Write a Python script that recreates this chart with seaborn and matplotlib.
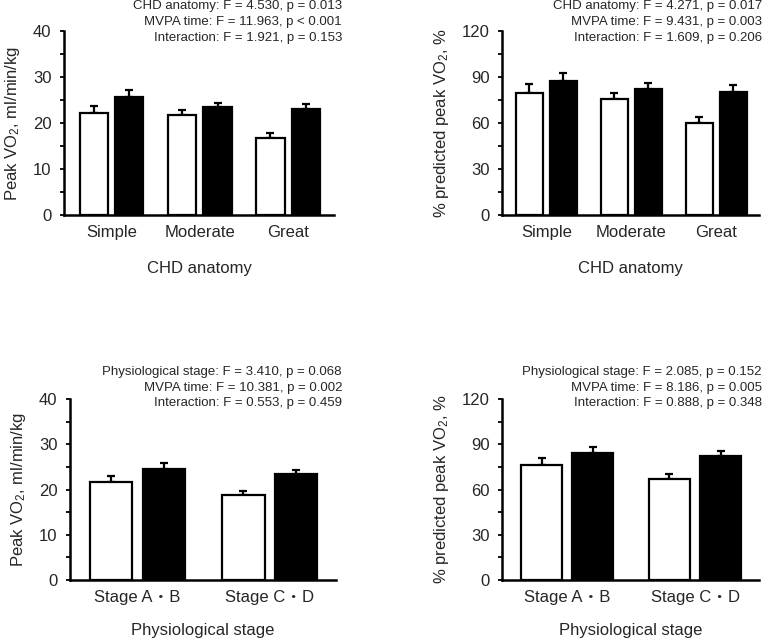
import matplotlib
matplotlib.use('Agg')
import numpy as np
import pandas as pd
import matplotlib.pyplot as plt
import seaborn as sns
from matplotlib.ticker import MultipleLocator

# ---- data (mean and upper SE for low / high MVPA time) ----
anatomy_cats = ['Simple', 'Moderate', 'Great']
stage_cats = ['Stage A・B', 'Stage C・D']

vo2_anat_low = [22.1, 21.7, 16.7]
vo2_anat_low_se = [1.7, 1.05, 1.2]
vo2_anat_high = [25.7, 23.5, 23.0]
vo2_anat_high_se = [1.5, 0.9, 1.1]

pct_anat_low = [79.3, 75.7, 59.8]
pct_anat_low_se = [5.9, 3.9, 3.9]
pct_anat_high = [87.6, 82.4, 80.4]
pct_anat_high_se = [4.8, 3.5, 4.2]

vo2_stage_low = [21.7, 18.8]
vo2_stage_low_se = [1.3, 0.9]
vo2_stage_high = [24.5, 23.35]
vo2_stage_high_se = [1.3, 0.85]

pct_stage_low = [76.2, 67.0]
pct_stage_low_se = [4.5, 3.3]
pct_stage_high = [84.0, 82.4]
pct_stage_high_se = [4.2, 2.9]

notes_vo2_anat = ['CHD anatomy: F = 4.530, p = 0.013',
                  'MVPA time: F = 11.963, p < 0.001',
                  'Interaction: F = 1.921, p = 0.153']
notes_pct_anat = ['CHD anatomy: F = 4.271, p = 0.017',
                  'MVPA time: F = 9.431, p = 0.003',
                  'Interaction: F = 1.609, p = 0.206']
notes_vo2_stage = ['Physiological stage: F = 3.410, p = 0.068',
                   'MVPA time: F = 10.381, p = 0.002',
                   'Interaction: F = 0.553, p = 0.459']
notes_pct_stage = ['Physiological stage: F = 2.085, p = 0.152',
                   'MVPA time: F = 8.186, p = 0.005',
                   'Interaction: F = 0.888, p = 0.348']

sns.set_style('ticks')
plt.rcParams['font.family'] = ['Liberation Sans', 'Noto Sans CJK JP']
plt.rcParams['mathtext.fontset'] = 'custom'
plt.rcParams['mathtext.rm'] = 'Liberation Sans'
plt.rcParams['mathtext.default'] = 'rm'

W, H = 762, 639
fig = plt.figure(figsize=(W / 100, H / 100), dpi=100)


def px_axes(left, top, right, bottom):
    return fig.add_axes([left / W, 1 - bottom / H, (right - left) / W, (bottom - top) / H])


def draw_panel(ax, cats, low, low_se, high, high_se, ytop, ystep, ylabel, xlabel, xlim, xpad):
    n = len(cats)
    df = pd.DataFrame({'cat': cats * 2,
                       'group': ['low'] * n + ['high'] * n,
                       'value': low + high})
    sns.barplot(data=df, x='cat', y='value', hue='group', palette=['white', 'black'],
                saturation=1, edgecolor='black', linewidth=1.6, gap=0.2,
                errorbar=None, legend=False, ax=ax)
    # upward-only SE bars
    for cont, se in zip(ax.containers, [low_se, high_se]):
        xs = [p.get_x() + p.get_width() / 2 for p in cont]
        ys = [p.get_height() for p in cont]
        ax.errorbar(xs, ys, yerr=[np.zeros(len(se)), se], fmt='none', ecolor='black',
                    elinewidth=1.6, capsize=3, capthick=1.6, zorder=0.5)
    ax.set_ylim(0, ytop)
    ax.set_xlim(*xlim)
    ax.yaxis.set_major_locator(MultipleLocator(ystep))
    ax.yaxis.set_minor_locator(MultipleLocator(ystep / 2))
    ax.tick_params(axis='y', which='both', length=3, width=1.3, direction='out',
                   labelsize=12, pad=6, color='black')
    ax.tick_params(axis='x', length=0, labelsize=12, pad=7)
    for s in ['top', 'right']:
        ax.spines[s].set_visible(False)
    for s in ['left', 'bottom']:
        ax.spines[s].set_linewidth(1.8)
        ax.spines[s].set_color('black')
    ax.set_ylabel(ylabel, fontsize=12, labelpad=8)
    ax.set_xlabel(xlabel, fontsize=12, labelpad=xpad)


def add_notes(lines, right, ys):
    for txt, y in zip(lines, ys):
        fig.text(right / W, 1 - y / H, txt, ha='right', va='center', fontsize=9.5)


ax1 = px_axes(64, 31, 334, 215)
draw_panel(ax1, anatomy_cats, vo2_anat_low, vo2_anat_low_se, vo2_anat_high, vo2_anat_high_se,
           40, 10, 'Peak VO$_2$, ml/min/kg', 'CHD anatomy', (-0.54, 2.52), 15)
add_notes(notes_vo2_anat, 342, [6.5, 22, 37.5])

ax2 = px_axes(502, 31, 759, 215)
draw_panel(ax2, anatomy_cats, pct_anat_low, pct_anat_low_se, pct_anat_high, pct_anat_high_se,
           120, 30, '% predicted peak VO$_2$, %', 'CHD anatomy', (-0.52, 2.5), 15)
add_notes(notes_pct_anat, 762, [6.5, 22, 37.5])

ax3 = px_axes(70, 399, 336, 580)
draw_panel(ax3, stage_cats, vo2_stage_low, vo2_stage_low_se, vo2_stage_high, vo2_stage_high_se,
           40, 10, 'Peak VO$_2$, ml/min/kg', 'Physiological stage', (-0.51, 1.5), 13)
add_notes(notes_vo2_stage, 342, [372, 388, 403])

ax4 = px_axes(502, 399, 759, 580)
draw_panel(ax4, stage_cats, pct_stage_low, pct_stage_low_se, pct_stage_high, pct_stage_high_se,
           120, 30, '% predicted peak VO$_2$, %', 'Physiological stage', (-0.51, 1.5), 13)
add_notes(notes_pct_stage, 762, [372, 388, 403])

fig.savefig('out.png', dpi=100, facecolor='white')
